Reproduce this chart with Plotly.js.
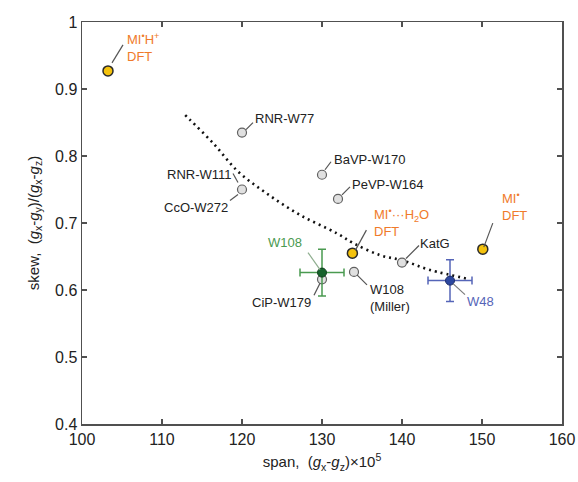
<!DOCTYPE html>
<html>
<head>
<meta charset="utf-8">
<script src="https://cdn.plot.ly/plotly-3.0.1.min.js"></script>
<style>html,body{margin:0;padding:0;background:#fff;}#chart{width:578px;height:482px;}</style>
</head>
<body>
<div id="chart"></div>
<script>
// Reference (gray) data points
const refNames = ["RNR-W77", "RNR-W111", "BaVP-W170", "PeVP-W164", "CiP-W179", "W108 (Miller)", "KatG"];
const refSpan = [120, 120, 130, 132, 130, 134, 140];
const refSkew = [0.835, 0.750, 0.772, 0.736, 0.616, 0.627, 0.641];

// DFT (yellow) points
const dftNames = ["MI•H+ DFT", "MI•···H2O DFT", "MI• DFT"];
const dftSpan = [103.25, 133.8, 150.1];
const dftSkew = [0.927, 0.655, 0.661];

// Experimental points with error bars
const w108Span = [130];
const w108Skew = [0.626];
const w108SpanErr = [2.75];
const w108SkewErr = [0.035];

const w48Span = [146];
const w48Skew = [0.614];
const w48SpanErr = [2.75];
const w48SkewErr = [0.031];

// Dotted trend curve
const curveSpan = [112.9, 113.5, 116.4, 119.5, 123.1, 127.25, 131.8, 133.9, 137.25, 140.1, 143.5, 148.5];
const curveSkew = [0.861, 0.854, 0.819, 0.777, 0.744, 0.712, 0.685, 0.670, 0.652, 0.644, 0.630, 0.616];

// Axis ticks
const xTicks = [100, 110, 120, 130, 140, 150, 160];
const yTicks = [0.4, 0.5, 0.6, 0.7, 0.8, 0.9, 1];
const yTickText = ["0.4", "0.5", "0.6", "0.7", "0.8", "0.9", "1"];

const FONT = "Liberation Sans, Arial, sans-serif";
const ORANGE = "#f07a2a";
const GREEN = "#4a9a50";
const BLUE = "#5565b8";

const traces = [
  {
    x: curveSpan, y: curveSkew, mode: "lines", type: "scatter",
    line: {color: "#111", width: 2.6, dash: "2px,4px", shape: "spline", smoothing: 1},
    hoverinfo: "skip"
  },
  {
    x: refSpan, y: refSkew, mode: "markers", type: "scatter", text: refNames,
    marker: {size: 9, color: "#e0e0e0", line: {color: "#606060", width: 1.2}}
  },
  {
    x: dftSpan, y: dftSkew, mode: "markers", type: "scatter", text: dftNames,
    marker: {size: 10, color: "#f4c20d", line: {color: "#2a2a2a", width: 1.5}}
  },
  {
    x: w108Span, y: w108Skew, mode: "markers", type: "scatter",
    error_x: {type: "data", array: w108SpanErr, color: GREEN, thickness: 1.5, width: 4},
    error_y: {type: "data", array: w108SkewErr, color: GREEN, thickness: 1.5, width: 4},
    marker: {size: 9, color: "#17622c", line: {color: "#0d3d1a", width: 1}}
  },
  {
    x: w48Span, y: w48Skew, mode: "markers", type: "scatter",
    error_x: {type: "data", array: w48SpanErr, color: BLUE, thickness: 1.5, width: 4},
    error_y: {type: "data", array: w48SkewErr, color: BLUE, thickness: 1.5, width: 4},
    marker: {size: 9, color: "#2c47a0", line: {color: "#1a2a66", width: 1}}
  }
];

// label: anchor point, text, text offset (px, y up), anchor side, leader offsets (px, y up)
const labels = [
  {x: dftSpan[0], y: dftSkew[0], t: "MI<sup>•</sup>H<sup>+</sup><br>DFT", dx: 17, dy: 23, xa: "left", c: ORANGE, l: [4, 8, 15, 26]},
  {x: refSpan[0], y: refSkew[0], t: refNames[0], dx: 11, dy: 14, xa: "left", l: [4, 3, 11, 10]},
  {x: refSpan[1], y: refSkew[1], t: "RNR-W111", dx: -8, dy: 15, xa: "right", l: [-4, 7, -9, 16]},
  {x: refSpan[1], y: refSkew[1], t: "CcO-W272", dx: -12, dy: -18, xa: "right", l: [-4, -5, -12, -11]},
  {x: refSpan[2], y: refSkew[2], t: refNames[2], dx: 10, dy: 15, xa: "left", l: [3, 5, 9, 13]},
  {x: refSpan[3], y: refSkew[3], t: refNames[3], dx: 12, dy: 14, xa: "left", l: [4, 4, 12, 12]},
  {x: dftSpan[1], y: dftSkew[1], t: "MI<sup>•</sup>···H<sub>2</sub>O<br>DFT", dx: 20, dy: 31, xa: "left", c: ORANGE, l: [3, 3, 14, 23]},
  {x: w108Span[0], y: w108Skew[0], t: "W108", dx: -18, dy: 30, xa: "right", c: GREEN, l: [-2, 3, -14, 20], lc: "#8fae8f"},
  {x: refSpan[4], y: refSkew[4], t: refNames[4], dx: -9, dy: -23, xa: "right", l: [-2, -4, -8, -16]},
  {x: refSpan[5], y: refSkew[5], t: "W108<br>(Miller)", dx: 14, dy: -26, xa: "left", l: [3, -3, 13, -13]},
  {x: refSpan[6], y: refSkew[6], t: refNames[6], dx: 16, dy: 19, xa: "left", l: [4, 4, 17, 17]},
  {x: w48Span[0], y: w48Skew[0], t: "W48", dx: 15, dy: -21, xa: "left", c: BLUE, l: [3, -3, 15, -14], lc: "#7a7a7a"},
  {x: dftSpan[2], y: dftSkew[2], t: "MI<sup>•</sup><br>DFT", dx: 17, dy: 43, xa: "left", c: ORANGE, l: [1, 2, 10, 26]}
];

const annotations = labels.map(d => ({
  x: d.x, y: d.y, xref: "x", yref: "y", text: d.t, showarrow: false,
  xanchor: d.xa, yanchor: "middle", xshift: d.dx, yshift: d.dy, align: "left",
  font: {family: FONT, size: 13, color: d.c || "#222"}
}));

const shapes = labels.map(d => ({
  type: "line", xref: "x", yref: "y", xsizemode: "pixel", ysizemode: "pixel",
  xanchor: d.x, yanchor: d.y, x0: d.l[0], y0: d.l[1], x1: d.l[2], y1: d.l[3],
  line: {color: d.lc || "#555", width: 1.2}
}));

const axisCommon = {
  showline: true, linecolor: "#505050", linewidth: 1.5, mirror: "ticks",
  ticks: "inside", ticklen: 5, tickwidth: 1.2, tickcolor: "#505050",
  showgrid: false, zeroline: false,
  tickfont: {family: FONT, size: 16, color: "#222"}
};

const layout = {
  width: 578, height: 482,
  margin: {l: 82, r: 16, t: 22, b: 58},
  paper_bgcolor: "#fff", plot_bgcolor: "#fff",
  showlegend: false,
  xaxis: Object.assign({}, axisCommon, {
    range: [100, 160], tickvals: xTicks,
    title: {text: "span,  (<i>g</i><sub>x</sub>-<i>g</i><sub>z</sub>)×10<sup>5</sup>",
            font: {family: FONT, size: 15, color: "#222"}, standoff: 10}
  }),
  yaxis: Object.assign({}, axisCommon, {
    range: [0.4, 1], tickvals: yTicks, ticktext: yTickText,
    title: {text: "skew,  (<i>g</i><sub>x</sub>-<i>g</i><sub>y</sub>)/(<i>g</i><sub>x</sub>-<i>g</i><sub>z</sub>)",
            font: {family: FONT, size: 15, color: "#222"}, standoff: 12}
  }),
  annotations: annotations,
  shapes: shapes
};

Plotly.newPlot("chart", traces, layout, {displayModeBar: false, staticPlot: true});
</script>
</body>
</html>
